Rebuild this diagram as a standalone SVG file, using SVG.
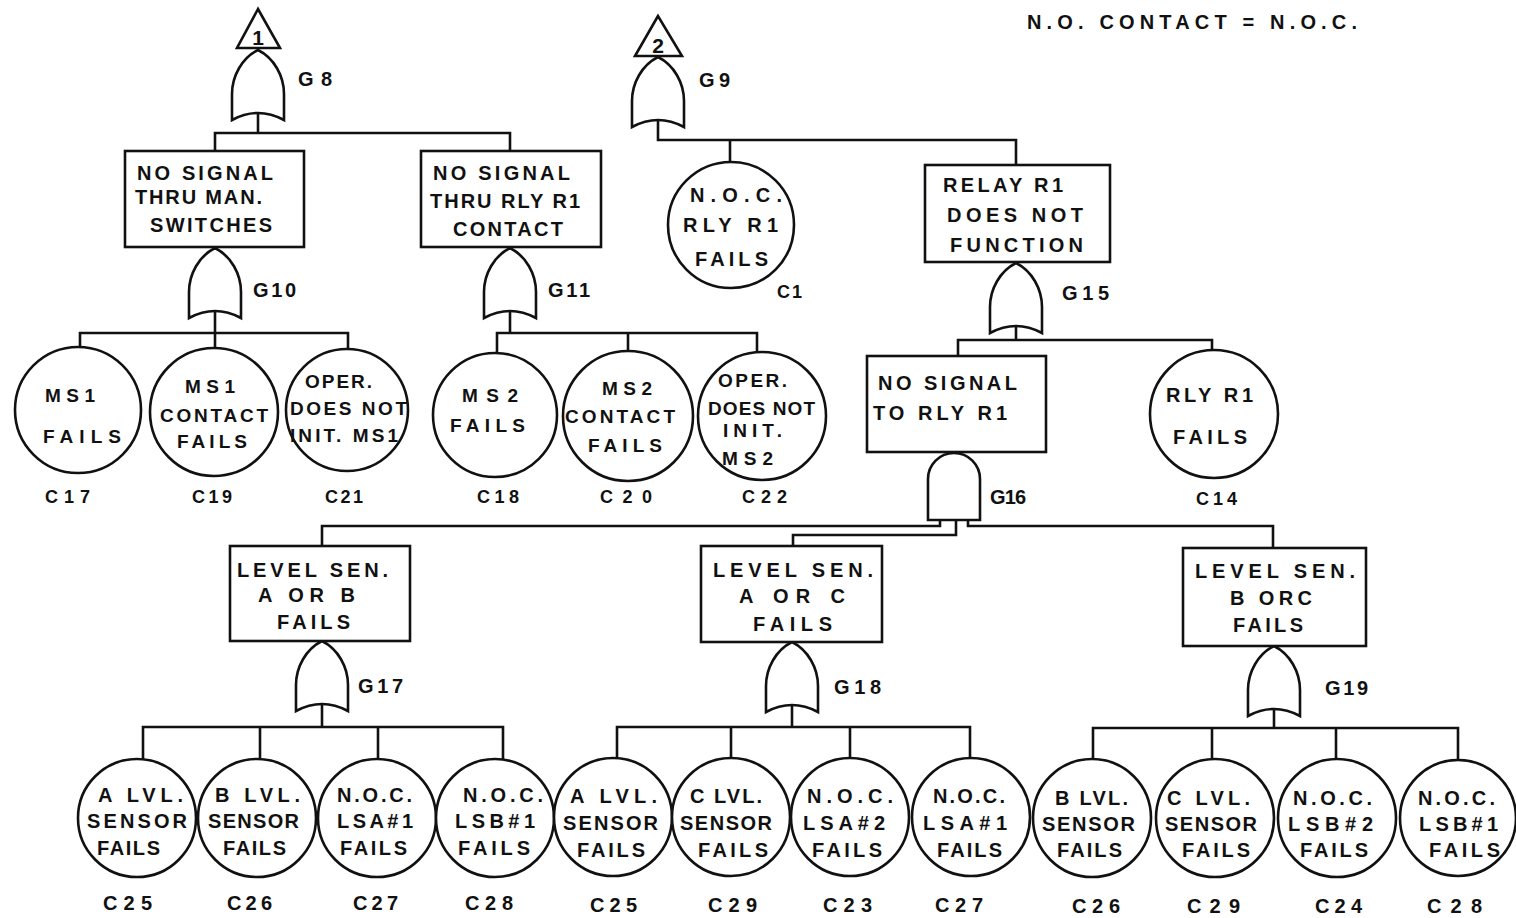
<svg xmlns="http://www.w3.org/2000/svg" xmlns:xlink="http://www.w3.org/1999/xlink" width="1516" height="918" viewBox="0 0 1516 918">
<style>
.s{fill:#fff;stroke:#111;stroke-width:2.6}
.w{fill:none;stroke:#111;stroke-width:2.6;stroke-linejoin:miter}
text{font-family:"Liberation Sans",Arial,sans-serif;font-weight:bold;fill:#111}
.t{font-size:20px}
.m{font-size:19px}
.l{font-size:18px}
.g{font-size:20px}
.b{font-size:20px}
</style>
<defs>
<path id="or" d="M0,0 C16,8 26,26 26,44 L26,70 Q0,56 -26,70 L-26,44 C-26,26 -16,8 0,0 Z"/>
</defs>
<rect width="1516" height="918" fill="#fff"/>

<text class="t" x="1027" y="29" textLength="330" lengthAdjust="spacing">N.O. CONTACT = N.O.C.</text>

<g id="connectors" class="w">
<polyline points="258,113 258,133"/>
<polyline points="215,151 215,133 510,133 510,151"/>
<polyline points="215,311 215,333"/>
<polyline points="80,350 80,333 348,333 348,350"/>
<polyline points="215,333 215,349"/>
<polyline points="510,311 510,333"/>
<polyline points="497,353 497,333 757,333 757,352"/>
<polyline points="628,333 628,352"/>
<polyline points="658,120 658,140 1016,140 1016,165"/>
<polyline points="730,140 730,162"/>
<polyline points="1016,326 1016,340"/>
<polyline points="958,356 958,340 1212,340 1212,351"/>
<polyline points="940,520 940,526 322,526 322,546"/>
<polyline points="956,520 956,535 793,535 793,546"/>
<polyline points="968,520 968,526 1273,526 1273,548"/>
<polyline points="322,704 322,727"/>
<polyline points="143,760 143,727 503,727 503,760"/>
<polyline points="260,727 260,760"/>
<polyline points="378,727 378,760"/>
<polyline points="792,705 792,727"/>
<polyline points="617,758 617,727 970,727 970,758"/>
<polyline points="731,727 731,758"/>
<polyline points="850,727 850,758"/>
<polyline points="1274,709 1274,728"/>
<polyline points="1093,759 1093,728 1458,728 1458,759"/>
<polyline points="1212,728 1212,759"/>
<polyline points="1336,728 1336,759"/>
</g>

<g id="T1"><polygon class="s" points="258,9 237,48 280,48"/><text x="258" y="45" font-size="21" font-weight="normal" text-anchor="middle">1</text></g>
<g id="T2"><polygon class="s" points="658,16 635,56 682,56"/><text x="658" y="53" font-size="21" text-anchor="middle">2</text></g>

<g id="G8"><use href="#or" class="s" x="258" y="50"/><text class="g" x="298" y="86" textLength="34" lengthAdjust="spacing">G8</text></g>
<g id="G9"><use href="#or" class="s" x="658" y="57"/><text class="g" x="699" y="87" textLength="31" lengthAdjust="spacing">G9</text></g>
<g id="G10"><use href="#or" class="s" x="215" y="248"/><text class="g" x="253" y="297" textLength="43" lengthAdjust="spacing">G10</text></g>
<g id="G11"><use href="#or" class="s" x="510" y="248"/><text class="g" x="548" y="297" textLength="42" lengthAdjust="spacing">G11</text></g>
<g id="G15"><use href="#or" class="s" x="1016" y="263"/><text class="g" x="1062" y="300" textLength="47" lengthAdjust="spacing">G15</text></g>
<g id="G16"><path class="s" d="M928,520 L928,479 A26,26 0 0 1 980,479 L980,520 Z"/><text class="g" x="990" y="504" textLength="36" lengthAdjust="spacing">G16</text></g>
<g id="G17"><use href="#or" class="s" x="322" y="641"/><text class="g" x="358" y="693" textLength="45" lengthAdjust="spacing">G17</text></g>
<g id="G18"><use href="#or" class="s" x="792" y="642"/><text class="g" x="834" y="694" textLength="47" lengthAdjust="spacing">G18</text></g>
<g id="G19"><use href="#or" class="s" x="1274" y="646"/><text class="g" x="1325" y="695" textLength="43" lengthAdjust="spacing">G19</text></g>

<g id="E_man"><rect class="s" x="125" y="151" width="179" height="96"/>
<text class="t" x="137" y="180" textLength="136" lengthAdjust="spacing">NO SIGNAL</text>
<text class="t" x="135" y="204" textLength="127" lengthAdjust="spacing">THRU MAN.</text>
<text class="t" x="150" y="232" textLength="122" lengthAdjust="spacing">SWITCHES</text></g>

<g id="E_rly"><rect class="s" x="421" y="151" width="180" height="96"/>
<text class="t" x="433" y="180" textLength="137" lengthAdjust="spacing">NO SIGNAL</text>
<text class="t" x="430" y="208" textLength="150" lengthAdjust="spacing">THRU RLY R1</text>
<text class="t" x="453" y="236" textLength="110" lengthAdjust="spacing">CONTACT</text></g>

<g id="C1"><circle class="s" cx="731" cy="225" r="63"/>
<text class="t" x="690" y="202" textLength="92" lengthAdjust="spacing">N.O.C.</text>
<text class="t" x="683" y="232" textLength="95" lengthAdjust="spacing">RLY R1</text>
<text class="t" x="695" y="266" textLength="73" lengthAdjust="spacing">FAILS</text>
<text class="l" x="777" y="298" textLength="25" lengthAdjust="spacing">C1</text></g>

<g id="E_relay"><rect class="s" x="925" y="165" width="185" height="97"/>
<text class="t" x="943" y="192" textLength="120" lengthAdjust="spacing">RELAY R1</text>
<text class="t" x="947" y="222" textLength="136" lengthAdjust="spacing">DOES NOT</text>
<text class="t" x="950" y="252" textLength="133" lengthAdjust="spacing">FUNCTION</text></g>

<g id="E_nosig"><rect class="s" x="867" y="356" width="179" height="96"/>
<text class="t" x="878" y="390" textLength="139" lengthAdjust="spacing">NO SIGNAL</text>
<text class="t" x="873" y="420" textLength="134" lengthAdjust="spacing">TO RLY R1</text></g>

<g id="C14"><circle class="s" cx="1214" cy="414" r="64"/>
<text class="t" x="1166" y="402" textLength="87" lengthAdjust="spacing">RLY R1</text>
<text class="t" x="1173" y="444" textLength="74" lengthAdjust="spacing">FAILS</text>
<text class="l" x="1196" y="505" textLength="41" lengthAdjust="spacing">C14</text></g>

<g id="C17"><circle class="s" cx="78" cy="410" r="63"/>
<text class="m" x="45" y="402" textLength="50" lengthAdjust="spacing">MS1</text>
<text class="m" x="43" y="443" textLength="78" lengthAdjust="spacing">FAILS</text>
<text class="l" x="45" y="503" textLength="45" lengthAdjust="spacing">C17</text></g>

<g id="C19"><circle class="s" cx="214" cy="412" r="64"/>
<text class="m" x="185" y="393" textLength="50" lengthAdjust="spacing">MS1</text>
<text class="m" x="160" y="422" textLength="108" lengthAdjust="spacing">CONTACT</text>
<text class="m" x="177" y="448" textLength="70" lengthAdjust="spacing">FAILS</text>
<text class="l" x="192" y="503" textLength="40" lengthAdjust="spacing">C19</text></g>

<g id="C21"><circle class="s" cx="347" cy="410" r="61"/>
<text class="m" x="305" y="388" textLength="67" lengthAdjust="spacing">OPER.</text>
<text class="m" x="290" y="415" textLength="117" lengthAdjust="spacing">DOES NOT</text>
<text class="m" x="290" y="442" textLength="108" lengthAdjust="spacing">INIT. MS1</text>
<text class="l" x="325" y="503" textLength="38" lengthAdjust="spacing">C21</text></g>

<g id="C18"><circle class="s" cx="495" cy="415" r="62"/>
<text class="m" x="462" y="402" textLength="56" lengthAdjust="spacing">MS2</text>
<text class="m" x="450" y="432" textLength="75" lengthAdjust="spacing">FAILS</text>
<text class="l" x="477" y="503" textLength="42" lengthAdjust="spacing">C18</text></g>

<g id="C20"><circle class="s" cx="628" cy="416" r="65"/>
<text class="m" x="602" y="395" textLength="50" lengthAdjust="spacing">MS2</text>
<text class="m" x="565" y="423" textLength="110" lengthAdjust="spacing">CONTACT</text>
<text class="m" x="588" y="452" textLength="74" lengthAdjust="spacing">FAILS</text>
<text class="l" x="600" y="503" textLength="52" lengthAdjust="spacing">C20</text></g>

<g id="C22"><circle class="s" cx="762" cy="416" r="64"/>
<text class="m" x="718" y="387" textLength="69" lengthAdjust="spacing">OPER.</text>
<text class="m" x="708" y="415" textLength="107" lengthAdjust="spacing">DOES NOT</text>
<text class="m" x="723" y="437" textLength="59" lengthAdjust="spacing">INIT.</text>
<text class="m" x="722" y="465" textLength="51" lengthAdjust="spacing">MS2</text>
<text class="l" x="742" y="503" textLength="45" lengthAdjust="spacing">C22</text></g>

<g id="E_AB"><rect class="s" x="230" y="546" width="180" height="95"/>
<text class="t" x="237" y="577" textLength="151" lengthAdjust="spacing">LEVEL SEN.</text>
<text class="t" x="258" y="602" textLength="97" lengthAdjust="spacing">A OR B</text>
<text class="t" x="277" y="629" textLength="73" lengthAdjust="spacing">FAILS</text></g>

<g id="E_AC"><rect class="s" x="701" y="546" width="181" height="96"/>
<text class="t" x="713" y="577" textLength="160" lengthAdjust="spacing">LEVEL SEN.</text>
<text class="t" x="739" y="603" textLength="106" lengthAdjust="spacing">A OR C</text>
<text class="t" x="753" y="631" textLength="79" lengthAdjust="spacing">FAILS</text></g>

<g id="E_BC"><rect class="s" x="1183" y="548" width="183" height="98"/>
<text class="t" x="1195" y="578" textLength="160" lengthAdjust="spacing">LEVEL SEN.</text>
<text class="t" x="1230" y="605" textLength="82" lengthAdjust="spacing">B ORC</text>
<text class="t" x="1233" y="632" textLength="70" lengthAdjust="spacing">FAILS</text></g>

<g id="C25a"><circle class="s" cx="137" cy="818" r="59"/>
<text class="t" x="98" y="802" textLength="85" lengthAdjust="spacing">A LVL.</text>
<text class="t" x="87" y="828" textLength="100" lengthAdjust="spacing">SENSOR</text>
<text class="t" x="97" y="855" textLength="63" lengthAdjust="spacing">FAILS</text>
<text class="b" x="103" y="910" textLength="49" lengthAdjust="spacing">C25</text></g>

<g id="C26a"><circle class="s" cx="257" cy="818" r="59"/>
<text class="t" x="215" y="802" textLength="85" lengthAdjust="spacing">B LVL.</text>
<text class="t" x="208" y="828" textLength="91" lengthAdjust="spacing">SENSOR</text>
<text class="t" x="223" y="855" textLength="63" lengthAdjust="spacing">FAILS</text>
<text class="b" x="227" y="910" textLength="45" lengthAdjust="spacing">C26</text></g>

<g id="C27a"><circle class="s" cx="377" cy="818" r="59"/>
<text class="t" x="337" y="802" textLength="75" lengthAdjust="spacing">N.O.C.</text>
<text class="t" x="337" y="828" textLength="76" lengthAdjust="spacing">LSA#1</text>
<text class="t" x="340" y="855" textLength="67" lengthAdjust="spacing">FAILS</text>
<text class="b" x="353" y="910" textLength="45" lengthAdjust="spacing">C27</text></g>

<g id="C28a"><circle class="s" cx="495" cy="818" r="59"/>
<text class="t" x="463" y="802" textLength="80" lengthAdjust="spacing">N.O.C.</text>
<text class="t" x="455" y="828" textLength="80" lengthAdjust="spacing">LSB#1</text>
<text class="t" x="458" y="855" textLength="72" lengthAdjust="spacing">FAILS</text>
<text class="b" x="465" y="910" textLength="48" lengthAdjust="spacing">C28</text></g>

<g id="C25b"><circle class="s" cx="613" cy="817" r="59"/>
<text class="t" x="570" y="803" textLength="87" lengthAdjust="spacing">A LVL.</text>
<text class="t" x="563" y="830" textLength="95" lengthAdjust="spacing">SENSOR</text>
<text class="t" x="577" y="857" textLength="68" lengthAdjust="spacing">FAILS</text>
<text class="b" x="590" y="912" textLength="47" lengthAdjust="spacing">C25</text></g>

<g id="C29b"><circle class="s" cx="731" cy="817" r="59"/>
<text class="t" x="690" y="803" textLength="72" lengthAdjust="spacing">C LVL.</text>
<text class="t" x="680" y="830" textLength="92" lengthAdjust="spacing">SENSOR</text>
<text class="t" x="698" y="857" textLength="70" lengthAdjust="spacing">FAILS</text>
<text class="b" x="708" y="912" textLength="49" lengthAdjust="spacing">C29</text></g>

<g id="C23b"><circle class="s" cx="850" cy="817" r="59"/>
<text class="t" x="807" y="803" textLength="86" lengthAdjust="spacing">N.O.C.</text>
<text class="t" x="803" y="830" textLength="82" lengthAdjust="spacing">LSA#2</text>
<text class="t" x="812" y="857" textLength="70" lengthAdjust="spacing">FAILS</text>
<text class="b" x="823" y="912" textLength="49" lengthAdjust="spacing">C23</text></g>

<g id="C27b"><circle class="s" cx="971" cy="817" r="59"/>
<text class="t" x="933" y="803" textLength="72" lengthAdjust="spacing">N.O.C.</text>
<text class="t" x="923" y="830" textLength="84" lengthAdjust="spacing">LSA#1</text>
<text class="t" x="937" y="857" textLength="65" lengthAdjust="spacing">FAILS</text>
<text class="b" x="935" y="912" textLength="48" lengthAdjust="spacing">C27</text></g>

<g id="C26c"><circle class="s" cx="1092" cy="818" r="59"/>
<text class="t" x="1055" y="805" textLength="73" lengthAdjust="spacing">B LVL.</text>
<text class="t" x="1042" y="831" textLength="93" lengthAdjust="spacing">SENSOR</text>
<text class="t" x="1057" y="857" textLength="65" lengthAdjust="spacing">FAILS</text>
<text class="b" x="1072" y="913" textLength="48" lengthAdjust="spacing">C26</text></g>

<g id="C29c"><circle class="s" cx="1215" cy="818" r="59"/>
<text class="t" x="1167" y="805" textLength="83" lengthAdjust="spacing">C LVL.</text>
<text class="t" x="1165" y="831" textLength="92" lengthAdjust="spacing">SENSOR</text>
<text class="t" x="1182" y="857" textLength="68" lengthAdjust="spacing">FAILS</text>
<text class="b" x="1187" y="913" textLength="53" lengthAdjust="spacing">C29</text></g>

<g id="C24c"><circle class="s" cx="1337" cy="818" r="59"/>
<text class="t" x="1293" y="805" textLength="79" lengthAdjust="spacing">N.O.C.</text>
<text class="t" x="1288" y="831" textLength="85" lengthAdjust="spacing">LSB#2</text>
<text class="t" x="1300" y="857" textLength="68" lengthAdjust="spacing">FAILS</text>
<text class="b" x="1315" y="913" textLength="47" lengthAdjust="spacing">C24</text></g>

<g id="C28c"><circle class="s" cx="1458" cy="818" r="58"/>
<text class="t" x="1418" y="805" textLength="77" lengthAdjust="spacing">N.O.C.</text>
<text class="t" x="1419" y="831" textLength="79" lengthAdjust="spacing">LSB#1</text>
<text class="t" x="1429" y="857" textLength="71" lengthAdjust="spacing">FAILS</text>
<text class="b" x="1427" y="913" textLength="55" lengthAdjust="spacing">C28</text></g>
</svg>
